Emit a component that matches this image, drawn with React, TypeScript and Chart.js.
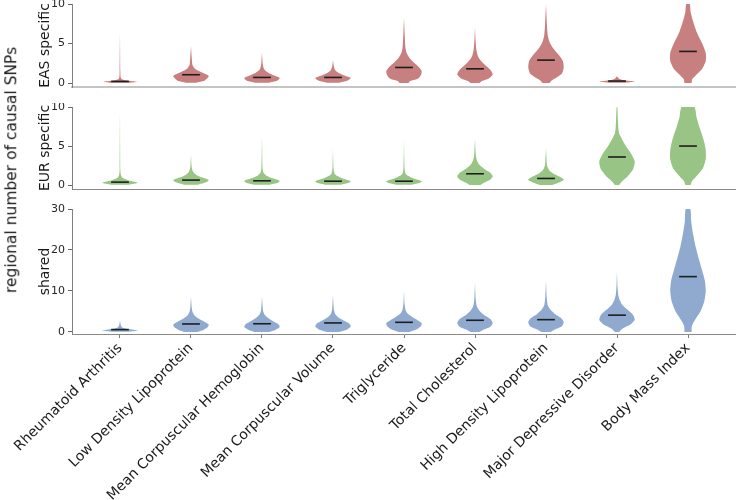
import React, { useEffect, useRef } from "react";
import { Chart, registerables } from "chart.js";
Chart.register(...registerables);

const categories = [
  "Rheumatoid Arthritis",
  "Low Density Lipoprotein",
  "Mean Corpuscular Hemoglobin",
  "Mean Corpuscular Volume",
  "Triglyceride",
  "Total Cholesterol",
  "High Density Lipoprotein",
  "Major Depressive Disorder",
  "Body Mass Index",
];

// Violin profiles: [value, relative half-width] from bottom to top
const easViolins: number[][][] = [
  [[0.05, 0.6], [0.15, 1.0], [0.3, 0.5], [0.45, 0.12], [0.7, 0.04], [1.5, 0.02], [6.4, 0]],
  [[0.05, 0.3], [0.3, 0.75], [0.9, 1.0], [1.4, 0.55], [1.8, 0.22], [2.3, 0.08], [3.3, 0.04], [4.7, 0]],
  [[0.05, 0.4], [0.3, 0.85], [0.65, 1.0], [1.0, 0.65], [1.3, 0.35], [1.7, 0.13], [2.3, 0.05], [3.9, 0]],
  [[0.05, 0.35], [0.3, 0.8], [0.65, 1.0], [1.0, 0.6], [1.3, 0.3], [1.65, 0.12], [2.2, 0.04], [2.9, 0]],
  [[0.0, 0.25], [0.25, 0.35], [0.5, 0.75], [1.0, 0.95], [1.5, 1.0], [2.0, 0.85], [2.6, 0.55], [3.2, 0.3], [3.8, 0.15], [4.5, 0.08], [6.0, 0.04], [8.3, 0]],
  [[0.0, 0.25], [0.25, 0.4], [0.6, 0.8], [1.1, 1.0], [1.7, 0.85], [2.3, 0.55], [2.9, 0.3], [3.5, 0.15], [4.3, 0.07], [5.5, 0.03], [7.1, 0]],
  [[0.0, 0.2], [0.3, 0.3], [0.7, 0.6], [1.2, 0.9], [2.0, 1.0], [2.8, 0.95], [3.6, 0.7], [4.4, 0.4], [5.2, 0.2], [6.0, 0.1], [7.5, 0.05], [10.0, 0]],
  [[0.05, 0.5], [0.2, 1.0], [0.35, 0.4], [0.55, 0.12], [0.85, 0]],
  [[0.0, 0.2], [0.5, 0.24], [1.0, 0.45], [1.8, 0.8], [2.8, 1.0], [3.8, 1.0], [5.0, 0.8], [6.5, 0.48], [8.0, 0.26], [9.0, 0.15], [10.0, 0.1]],
];
const eurViolins: number[][][] = [
  [[0.05, 0.5], [0.3, 1.0], [0.6, 0.5], [0.9, 0.15], [1.3, 0.05], [2.0, 0.02], [10.0, 0]],
  [[0.05, 0.4], [0.35, 0.85], [0.65, 1.0], [1.0, 0.6], [1.3, 0.3], [1.7, 0.12], [2.3, 0.04], [3.9, 0]],
  [[0.05, 0.45], [0.3, 0.9], [0.55, 1.0], [0.9, 0.55], [1.2, 0.25], [1.6, 0.08], [2.3, 0.03], [6.4, 0]],
  [[0.05, 0.45], [0.3, 0.9], [0.5, 1.0], [0.85, 0.55], [1.15, 0.25], [1.5, 0.08], [2.2, 0.03], [4.7, 0]],
  [[0.05, 0.45], [0.3, 0.9], [0.5, 1.0], [0.85, 0.55], [1.15, 0.25], [1.5, 0.08], [2.2, 0.03], [5.8, 0]],
  [[0.0, 0.3], [0.3, 0.5], [0.7, 0.85], [1.1, 1.0], [1.6, 0.85], [2.1, 0.5], [2.6, 0.25], [3.1, 0.12], [3.8, 0.05], [5.9, 0]],
  [[0.0, 0.35], [0.3, 0.7], [0.7, 1.0], [1.1, 0.75], [1.5, 0.4], [1.9, 0.18], [2.5, 0.06], [4.7, 0]],
  [[0.0, 0.12], [0.4, 0.25], [1.0, 0.55], [2.0, 0.9], [3.0, 1.0], [4.0, 0.8], [5.0, 0.5], [6.0, 0.25], [6.6, 0.12], [7.2, 0.08], [8.5, 0.05], [10.0, 0.02]],
  [[0.0, 0.15], [0.5, 0.22], [1.2, 0.5], [2.2, 0.85], [3.3, 1.0], [4.5, 1.0], [5.8, 0.88], [7.3, 0.66], [8.7, 0.48], [10.0, 0.36]],
];
const sharedViolins: number[][][] = [
  [[0.05, 0.5], [0.35, 1.0], [0.7, 0.45], [1.0, 0.15], [1.5, 0.06], [2.7, 0]],
  [[0.0, 0.35], [0.5, 0.7], [1.2, 0.95], [1.8, 1.0], [2.5, 0.75], [3.2, 0.45], [4.0, 0.2], [5.0, 0.08], [6.0, 0.04], [8.6, 0]],
  [[0.0, 0.4], [0.5, 0.75], [1.2, 1.0], [2.0, 0.9], [2.7, 0.6], [3.4, 0.35], [4.2, 0.15], [5.2, 0.06], [8.6, 0]],
  [[0.0, 0.35], [0.6, 0.8], [1.3, 1.0], [2.1, 0.9], [2.8, 0.6], [3.6, 0.3], [4.4, 0.12], [5.5, 0.05], [9.0, 0]],
  [[0.0, 0.3], [0.6, 0.7], [1.4, 0.95], [2.1, 1.0], [2.9, 0.75], [3.7, 0.45], [4.5, 0.2], [5.5, 0.08], [7.0, 0.03], [10.2, 0]],
  [[0.0, 0.25], [0.5, 0.45], [1.2, 0.85], [2.2, 1.0], [3.2, 0.85], [4.2, 0.5], [5.2, 0.25], [6.3, 0.1], [8.0, 0.04], [12.0, 0]],
  [[0.0, 0.25], [0.6, 0.5], [1.4, 0.9], [2.4, 1.0], [3.4, 0.85], [4.4, 0.5], [5.4, 0.25], [6.5, 0.1], [8.5, 0.04], [12.6, 0]],
  [[0.0, 0.12], [0.8, 0.3], [1.8, 0.75], [3.0, 1.0], [4.2, 0.9], [5.4, 0.6], [6.6, 0.3], [7.8, 0.15], [9.0, 0.07], [11.0, 0.03], [14.9, 0]],
  [[0.0, 0.2], [1.5, 0.22], [3.0, 0.4], [5.0, 0.7], [7.5, 0.92], [10.0, 1.0], [12.5, 0.95], [15.0, 0.8], [18.0, 0.6], [21.0, 0.42], [24.0, 0.28], [27.0, 0.18], [30.0, 0.13]],
];

const easMedians = [0.2, 1.05, 0.71, 0.71, 1.97, 1.8, 2.9, 0.25, 4.0];
const eurMedians = [0.38, 0.64, 0.55, 0.5, 0.5, 1.45, 0.85, 3.6, 5.0];
const sharedMedians = [0.57, 1.95, 2.0, 2.2, 2.35, 2.85, 3.0, 4.1, 13.5];

const easTicks = [0, 5, 10];
const eurTicks = [0, 5, 10];
const sharedTicks = [0, 10, 20, 30];

const FONT = "DejaVu Sans";
const HALF = 0.25;
const MED_HALF = 0.125;
const X_MIN = -0.676;
const X_MAX = 8.676;

function buildDatasets(profiles: number[][][], medians: number[], color: string) {
  const ds: any[] = [];
  profiles.forEach((p, i) => {
    const right = p.map(([v, w]) => ({ x: i + w * HALF, y: v }));
    const left = p
      .slice()
      .reverse()
      .map(([v, w]) => ({ x: i - w * HALF, y: v }));
    ds.push({
      data: [...right, ...left],
      backgroundColor: color,
      borderColor: color,
      borderWidth: 0,
      pointRadius: 0,
      fill: "shape",
      tension: 0.2,
      order: 1,
    });
  });
  medians.forEach((m, i) => {
    ds.push({
      data: [
        { x: i - MED_HALF, y: m },
        { x: i + MED_HALF, y: m },
      ],
      borderColor: "#1e1e1e",
      borderWidth: 1.6,
      pointRadius: 0,
      fill: false,
      order: 0,
    });
  });
  return ds;
}

function yAxis(max: number, ticks: number[], title: string) {
  return {
    type: "linear",
    min: -0.5,
    max,
    afterBuildTicks: (s: any) => {
      s.ticks = ticks.map((v) => ({ value: v }));
    },
    afterFit: (s: any) => {
      s.width = 39;
      s.paddingTop = 0;
      s.paddingBottom = 0;
    },
    grid: { display: true, drawOnChartArea: false, drawTicks: true, tickLength: 4, color: "#666" },
    border: { display: true, color: "#808080", width: 1 },
    ticks: { font: { family: FONT, size: 11 }, color: "#262626", padding: 3 },
    title: {
      display: true,
      text: title,
      font: { family: FONT, size: 14 },
      color: "#1a1a1a",
      padding: { top: 4, bottom: 4 },
    },
  };
}

function xAxis(showLabels: boolean, height: number, borderColor: string, borderWidth: number) {
  return {
    type: "linear",
    min: X_MIN,
    max: X_MAX,
    afterBuildTicks: (s: any) => {
      s.ticks = categories.map((_, i) => ({ value: i }));
    },
    afterFit: (s: any) => {
      s.height = height;
      s.paddingLeft = 0;
      s.paddingRight = 0;
    },
    grid: {
      display: showLabels,
      drawOnChartArea: false,
      drawTicks: true,
      tickLength: 4,
      color: "#808080",
    },
    border: { display: true, color: borderColor, width: borderWidth },
    ticks: {
      display: showLabels,
      autoSkip: false,
      minRotation: 45,
      maxRotation: 45,
      padding: 2,
      font: { family: FONT, size: 14 },
      color: "#1a1a1a",
      callback: (v: any) => categories[Math.round(v)] ?? "",
    },
  };
}

function Panel(props: {
  top: number;
  height: number;
  padTop: number;
  xHeight: number;
  profiles: number[][][];
  medians: number[];
  color: string;
  yMax: number;
  ticks: number[];
  title: string;
  showLabels: boolean;
  borderColor: string;
  borderWidth: number;
}) {
  const ref = useRef<HTMLCanvasElement>(null);
  useEffect(() => {
    const chart = new Chart(ref.current as HTMLCanvasElement, {
      type: "line",
      data: { datasets: buildDatasets(props.profiles, props.medians, props.color) },
      options: {
        animation: false,
        responsive: false,
        devicePixelRatio: 1,
        layout: { padding: { top: props.padTop, left: 33, right: 0, bottom: 0 } },
        plugins: { legend: { display: false }, tooltip: { enabled: false } },
        scales: {
          x: xAxis(props.showLabels, props.xHeight, props.borderColor, props.borderWidth),
          y: yAxis(props.yMax, props.ticks, props.title),
        },
      } as any,
    });
    return () => chart.destroy();
  }, []);
  return (
    <canvas
      ref={ref}
      width={736}
      height={props.height}
      style={{ position: "absolute", left: 0, top: props.top, width: 736, height: props.height, display: "block" }}
    />
  );
}

export default function App() {
  return (
    <div style={{ position: "absolute", left: 0, top: 0, width: 736, height: 500, background: "#fff", overflow: "hidden" }}>
      <Panel
        top={0}
        height={92}
        padTop={4}
        xHeight={5}
        profiles={easViolins}
        medians={easMedians}
        color="rgb(200,127,127)"
        yMax={10}
        ticks={easTicks}
        title="EAS specific"
        showLabels={false}
        borderColor="#c4c4c4"
        borderWidth={2}
      />
      <Panel
        top={103}
        height={90}
        padTop={4}
        xHeight={4}
        profiles={eurViolins}
        medians={eurMedians}
        color="rgb(152,197,133)"
        yMax={10}
        ticks={eurTicks}
        title="EUR specific"
        showLabels={false}
        borderColor="#8a8a8a"
        borderWidth={1}
      />
      <Panel
        top={203}
        height={297}
        padTop={6}
        xHeight={166}
        profiles={sharedViolins}
        medians={sharedMedians}
        color="rgb(143,170,206)"
        yMax={30}
        ticks={sharedTicks}
        title="shared"
        showLabels={true}
        borderColor="#8a8a8a"
        borderWidth={1}
      />
      <div
        style={{
          position: "absolute",
          left: 12,
          top: 170,
          transform: "translate(-50%, -50%) rotate(-90deg)",
          whiteSpace: "nowrap",
          fontFamily: FONT,
          fontSize: 15.5,
          color: "#1a1a1a",
          lineHeight: 1,
        }}
      >
        regional number of causal SNPs
      </div>
    </div>
  );
}
